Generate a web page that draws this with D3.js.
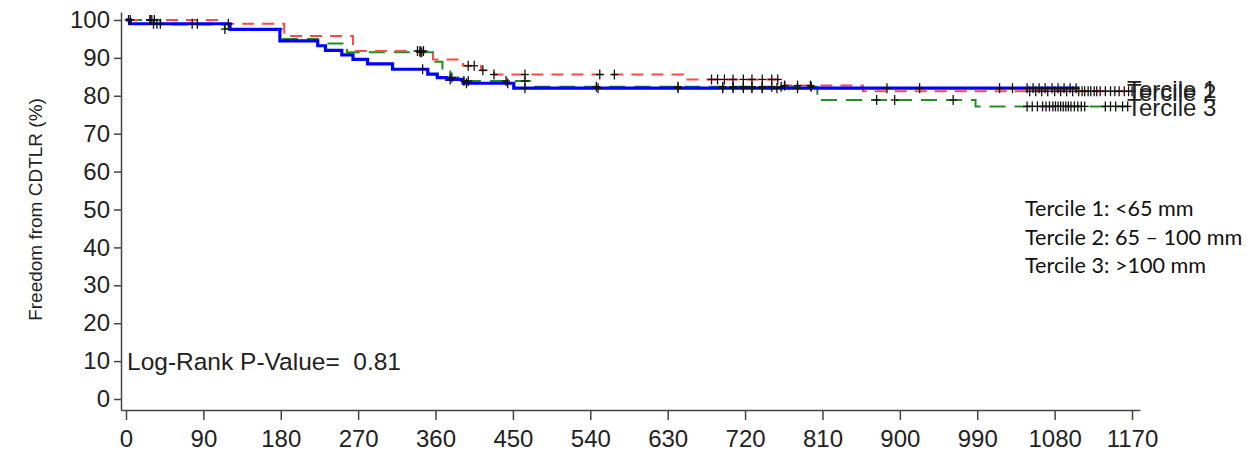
<!DOCTYPE html>
<html>
<head>
<meta charset="utf-8">
<script src="https://cdn.jsdelivr.net/npm/d3@7"></script>
<style>
  html, body { margin: 0; padding: 0; background: #fff; }
  svg { display: block; }
  .axis text { font-family: "Liberation Sans", Arial, sans-serif; font-size: 24px; fill: #222; }
  .axis path, .axis line { stroke: #444; stroke-width: 1.5; }
</style>
</head>
<body>
<svg id="chart" width="1247" height="460"></svg>
<script>
// Kaplan-Meier step data: event times (days) and survival (%) after each step
const groups = ["Tercile 1", "Tercile 2", "Tercile 3"];

const t1Times = [0, 5, 121, 179, 223, 232, 251, 264, 281, 310, 351, 362, 373, 392, 451];
const t1Surv  = [100, 99.0, 97.5, 94.5, 93.2, 92.0, 90.8, 89.6, 88.4, 87.0, 85.7, 84.8, 84.3, 83.3, 82.0];
const t1Censor = [3, 32, 36, 40, 77, 83, 119, 345, 377, 396, 444, 464, 549, 642, 694, 706, 718, 728, 740, 757,
                  781, 885, 923, 1016, 1031, 1048, 1055, 1062, 1069, 1077, 1084, 1091, 1098, 1105];
const t1End = 1107;

const t2Times = [0, 109, 184, 264, 357, 392, 413, 428, 648, 766, 857];
const t2Surv  = [100, 99.0, 95.8, 91.8, 89.6, 87.9, 86.7, 85.6, 84.3, 82.7, 81.2];
const t2Censor = [28, 30, 339, 342, 346, 398, 405, 415, 428, 464, 551, 568, 681, 688, 696, 706, 718, 728, 740,
                  751, 758, 766, 781, 796, 1051, 1058, 1065, 1072, 1080, 1087, 1094, 1101, 1108, 1112, 1115,
                  1119, 1122, 1126, 1129, 1133, 1139, 1145, 1150, 1155, 1161, 1166, 1170];
const t2End = 1170;

const t3Times = [0, 40, 115, 181, 223, 257, 357, 368, 377, 388, 474, 804, 988];
const t3Surv  = [100, 98.8, 97.6, 95.0, 93.8, 91.5, 89.0, 86.5, 84.8, 83.9, 82.4, 78.9, 77.2];
const t3Censor = [5, 28, 33, 115, 342, 344, 379, 393, 398, 442, 464, 547, 642, 694, 706, 718, 728, 740, 751,
                  762, 797, 873, 894, 962, 1048, 1054, 1060, 1066, 1070, 1074, 1078, 1081, 1084, 1087, 1090,
                  1093, 1096, 1099, 1103, 1107, 1111, 1115, 1139, 1145, 1151, 1159, 1165];
const t3End = 1165;

const xTicks = d3.range(0, 1171, 90);
const yTicks = d3.range(0, 101, 10);

const legendLines = ["Tercile 1: <65 mm", "Tercile 2: 65 \u2013 100 mm", "Tercile 3: >100 mm"];
const pValueText = "Log-Rank P-Value=  0.81";
const yTitle = "Freedom from CDTLR (%)";

const series = [
  { name: groups[0], times: t1Times, surv: t1Surv, censor: t1Censor, end: t1End,
    color: "#0000ff", width: 3.2, dash: null },
  { name: groups[1], times: t2Times, surv: t2Surv, censor: t2Censor, end: t2End,
    color: "#ff4848", width: 2, dash: "12,8" },
  { name: groups[2], times: t3Times, surv: t3Surv, censor: t3Censor, end: t3End,
    color: "#238f23", width: 2, dash: "16,9" }
];

const svg = d3.select("#chart");

const x = d3.scaleLinear().domain([-5.8, 1179.3]).range([121, 1140]);
const y = d3.scaleLinear().domain([-2.9, 102.1]).range([410, 12]);

// axes
svg.append("g")
  .attr("class", "axis")
  .attr("transform", `translate(0,${y(-2.9)})`)
  .call(d3.axisBottom(x).tickValues(xTicks).tickFormat(d3.format("d"))
    .tickSize(10).tickSizeOuter(0).tickPadding(10));

svg.append("g")
  .attr("class", "axis")
  .attr("transform", `translate(${x(-5.8)},0)`)
  .call(d3.axisLeft(y).tickValues(yTicks).tickFormat(d3.format("d"))
    .tickSize(7).tickSizeOuter(0).tickPadding(4));

// survival value at a given time for a step curve
function survAt(s, t) {
  let v = s.surv[0];
  for (let i = 0; i < s.times.length; i++) if (s.times[i] <= t) v = s.surv[i];
  return v;
}

const stepLine = d3.line().x(d => x(d[0])).y(d => y(d[1])).curve(d3.curveStepAfter);

// draw in reverse so the solid curve sits on top
[series[2], series[1], series[0]].forEach(s => {
  const pts = s.times.map((t, i) => [t, s.surv[i]]);
  pts.push([s.end, s.surv[s.surv.length - 1]]);
  svg.append("path")
    .attr("d", stepLine(pts))
    .attr("fill", "none")
    .attr("stroke", s.color)
    .attr("stroke-width", s.width)
    .attr("stroke-dasharray", s.dash);
});

// censoring marks
series.forEach(s => {
  const g = svg.append("g").attr("stroke", "#111").attr("stroke-width", 1.3);
  s.censor.forEach(t => {
    const cx = x(t), cy = y(survAt(s, t));
    g.append("line").attr("x1", cx).attr("x2", cx).attr("y1", cy - 5).attr("y2", cy + 5);
    g.append("line").attr("x1", cx - 4).attr("x2", cx + 4).attr("y1", cy).attr("y2", cy);
  });
});

// curve end labels
series.forEach(s => {
  const last = s.surv[s.surv.length - 1];
  svg.append("text")
    .attr("x", 1127)
    .attr("y", y(last) + 10)
    .attr("font-family", "'Liberation Sans', Arial, sans-serif")
    .attr("font-size", 24)
    .attr("fill", "#222")
    .text(s.name);
});

// p-value annotation
svg.append("text")
  .attr("x", 127).attr("y", y(10) + 9)
  .attr("font-family", "'Liberation Sans', Arial, sans-serif")
  .attr("font-size", 24.5)
  .attr("fill", "#222")
  .style("white-space", "pre")
  .text(pValueText);

// y axis title
svg.append("text")
  .attr("transform", `translate(42,${y(50)}) rotate(-90)`)
  .attr("text-anchor", "middle")
  .attr("font-family", "'Liberation Sans', Arial, sans-serif")
  .attr("font-size", 19)
  .attr("fill", "#222")
  .text(yTitle);

// tercile definitions
svg.append("g").selectAll("text").data(legendLines).join("text")
  .attr("x", 1025)
  .attr("y", (d, i) => 216 + i * 28.5)
  .attr("font-family", "Lato, 'Open Sans', sans-serif")
  .attr("font-size", 21.6)
  .attr("fill", "#111")
  .text(d => d);
</script>
</body>
</html>
